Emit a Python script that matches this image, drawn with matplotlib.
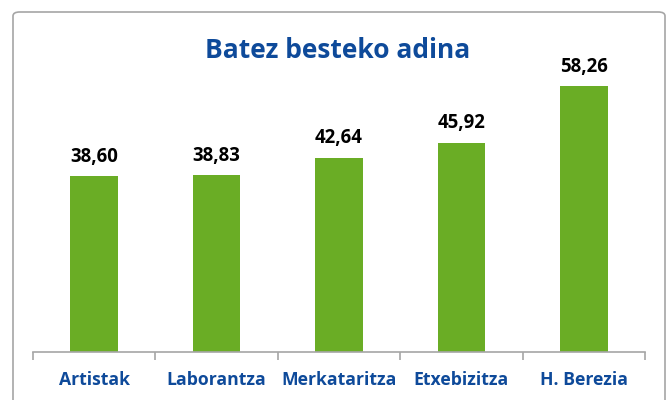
import matplotlib.pyplot as plt
from matplotlib.patches import FancyBboxPatch

categories = ['Artistak', 'Laborantza', 'Merkataritza', 'Etxebizitza', 'H. Berezia']
values = [38.60, 38.83, 42.64, 45.92, 58.26]

blue = '#0e4a9a'
green = '#6aad25'
plt.rcParams['font.family'] = ['Open Sans', 'DejaVu Sans']

W, H = 667, 400
fig = plt.figure(figsize=(W / 100, H / 100), dpi=100)

# marco gris redondeado
frame = FancyBboxPatch((13 / W, -20 / H), 652 / W, (H - 12 + 20) / H,
                       boxstyle='round,pad=0,rounding_size=0.01',
                       transform=fig.transFigure, fill=False,
                       edgecolor='#a6a6a6', linewidth=1.2)
fig.patches.append(frame)

# ejes: base en y=352 px, 4.56 px por unidad
left, right = 33, 645
bottom = 352
ymax = 70
top = bottom - ymax * 4.56
ax = fig.add_axes([left / W, (H - bottom) / H, (right - left) / W, (bottom - top) / H])

x = range(len(categories))
ax.bar(x, values, width=0.39, color=green)
ax.set_xlim(-0.5, len(categories) - 0.5)
ax.set_ylim(0, ymax)

for xi, v in zip(x, values):
    ax.text(xi, v + 2.0, f'{v:.2f}'.replace('.', ','), ha='center', va='bottom',
            fontsize=13.4, fontweight='bold', color='black')

for s in ['top', 'right', 'left']:
    ax.spines[s].set_visible(False)
ax.spines['bottom'].set_color('#a6a6a6')
ax.spines['bottom'].set_linewidth(1.2)
ax.set_yticks([])
ax.set_xticks([i - 0.5 for i in range(len(categories) + 1)], minor=False)
ax.set_xticklabels([])
ax.tick_params(axis='x', length=6, color='#a6a6a6', width=1.2)
ax.set_xticks(list(x), minor=True)
ax.set_xticklabels(categories, minor=True, fontsize=12.7, fontweight='bold', color=blue)
ax.tick_params(axis='x', which='minor', length=0, pad=14)

fig.text(338 / W, 1 - 50 / H, 'Batez besteko adina', ha='center', va='center',
         fontsize=19, fontweight='bold', color=blue)

fig.savefig('out.png', dpi=100)
